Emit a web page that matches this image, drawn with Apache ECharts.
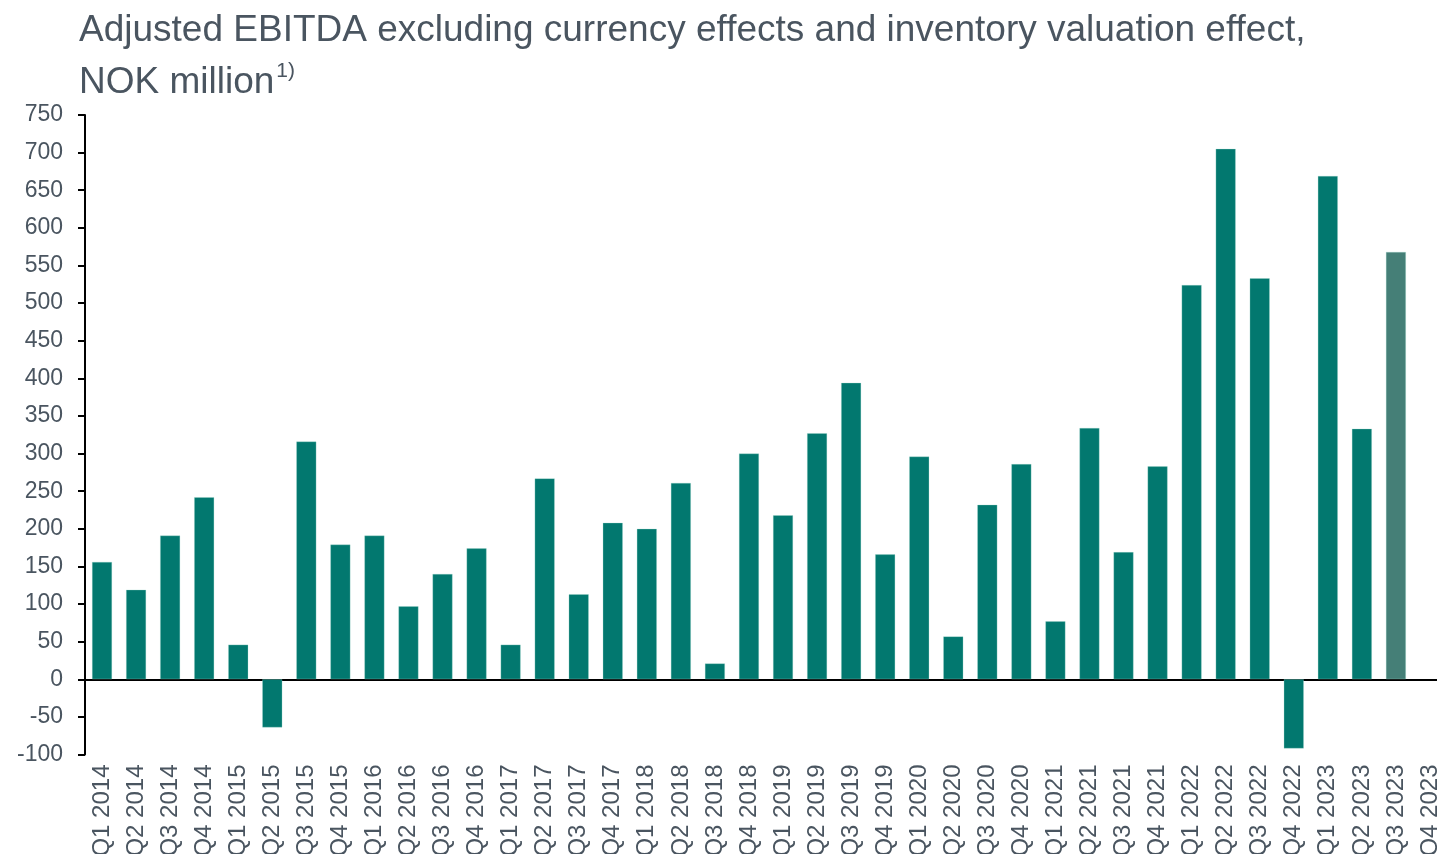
<!DOCTYPE html>
<html>
<head>
<meta charset="utf-8">
<script src="https://cdn.jsdelivr.net/npm/echarts@6/dist/echarts.min.js"></script>
<style>
  html, body { margin: 0; padding: 0; background: #ffffff; }
  #chart { width: 1437px; height: 854px; }
</style>
</head>
<body>
<div id="chart"></div>
<script>
// Quarterly adjusted EBITDA, NOK million
const quarters = [
  'Q1 2014','Q2 2014','Q3 2014','Q4 2014',
  'Q1 2015','Q2 2015','Q3 2015','Q4 2015',
  'Q1 2016','Q2 2016','Q3 2016','Q4 2016',
  'Q1 2017','Q2 2017','Q3 2017','Q4 2017',
  'Q1 2018','Q2 2018','Q3 2018','Q4 2018',
  'Q1 2019','Q2 2019','Q3 2019','Q4 2019',
  'Q1 2020','Q2 2020','Q3 2020','Q4 2020',
  'Q1 2021','Q2 2021','Q3 2021','Q4 2021',
  'Q1 2022','Q2 2022','Q3 2022','Q4 2022',
  'Q1 2023','Q2 2023','Q3 2023','Q4 2023'
];
const ebitda = [
  156, 119, 191, 242,
  46, -64, 316, 179,
  191, 97, 140, 174,
  46, 267, 113, 208,
  200, 261, 21, 300,
  218, 327, 394, 166,
  296, 57, 232, 286,
  77, 334, 169, 283,
  524, 705, 533, -92,
  669, 333, 568, null
];
// Quarter shown in the lighter shade
const highlightQuarter = 'Q3 2023';
const yTicks = { min: -100, max: 750, step: 50 };

const baseColor = '#02786f';
const highlightColor = '#457f77';
const textColor = '#4a5560';
const font = 'Liberation Sans, Arial, sans-serif';

const chart = echarts.init(document.getElementById('chart'), null, { renderer: 'canvas' });

const barData = ebitda.map((v, i) => ({
  value: v,
  itemStyle: { color: quarters[i] === highlightQuarter ? highlightColor : baseColor }
}));

chart.setOption({
  animation: false,
  backgroundColor: '#ffffff',
  title: {
    text: 'Adjusted EBITDA excluding currency effects and inventory valuation effect,\nNOK million{sup|1)}',
    left: 79,
    top: 5,
    padding: 0,
    textStyle: {
      fontFamily: font,
      fontSize: 37,
      fontWeight: 'normal',
      color: textColor,
      lineHeight: 52,
      rich: {
        sup: {
          fontFamily: font,
          fontSize: 21,
          color: textColor,
          verticalAlign: 'middle',
          lineHeight: 21,
          padding: [0, 0, 24, 2]
        }
      }
    }
  },
  // the category band runs slightly past the right edge of the page
  grid: {
    left: 85, width: 1362, top: 115, bottom: 99.5,
    containLabel: false,
    outerBoundsMode: 'none'
  },
  xAxis: [
    {
      type: 'category',
      data: quarters,
      axisLine: { onZero: true, lineStyle: { color: '#000000', width: 2 } },
      axisTick: { show: false },
      axisLabel: { show: false },
      splitLine: { show: false }
    },
    {
      type: 'category',
      data: quarters,
      position: 'bottom',
      axisLine: { show: false, onZero: false },
      axisTick: { show: false },
      axisLabel: {
        rotate: 90,
        interval: 0,
        margin: 10,
        color: textColor,
        fontFamily: font,
        fontSize: 24
      },
      splitLine: { show: false }
    }
  ],
  yAxis: {
    type: 'value',
    min: yTicks.min,
    max: yTicks.max,
    interval: yTicks.step,
    axisLine: { show: true, onZero: false, lineStyle: { color: '#000000', width: 2 } },
    axisTick: { show: true, length: 7, lineStyle: { color: '#000000', width: 2 } },
    axisLabel: {
      margin: 22,
      color: textColor,
      fontFamily: font,
      fontSize: 23
    },
    splitLine: { show: false }
  },
  series: [{
    type: 'bar',
    xAxisIndex: 0,
    data: barData,
    barWidth: 20,
    itemStyle: { borderColor: 'rgba(160,215,205,0.6)', borderWidth: 0.5 }
  }]
});
</script>
</body>
</html>
